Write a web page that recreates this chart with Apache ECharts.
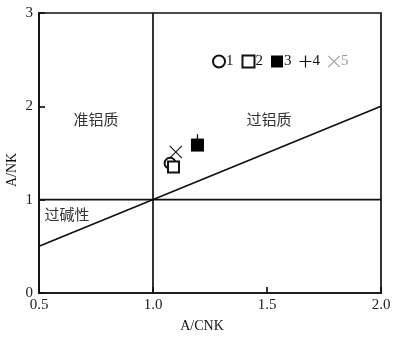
<!DOCTYPE html>
<html><head><meta charset="utf-8">
<script src="https://cdn.jsdelivr.net/npm/echarts@6/dist/echarts.min.js"></script>
<style>html,body{margin:0;padding:0;background:#fff}#c{width:393px;height:337px}</style>
</head><body><div id="c"></div>
<script>
// Reference lines
var diagLine = [[0.5, 0.5], [2.0, 2.0]];
var horizLine = [[0.5, 1.0], [2.0, 1.0]];
var vertLine = [[1.0, 0], [1.0, 3.0]];
// Sample points
var s1 = [[1.075, 1.39]];
var s2 = [[1.09, 1.35]];
var s3 = [[1.195, 1.585]];
var s4 = [[1.195, 1.63]];
var s5 = [[1.10, 1.51]];
var seriesNames = ['1', '2', '3', '4', '5'];
var xTicks = [0.5, 1.0, 1.5, 2.0];
var yTicks = [0, 1, 2, 3];

var PLUS = 'path://M4.5,0H5.5V4.5H10V5.5H5.5V10H4.5V5.5H0V4.5H4.5Z';
var CROSS = 'path://M0,0.6L0.6,0L5,4.4L9.4,0L10,0.6L5.6,5L10,9.4L9.4,10L5,5.6L0.6,10L0,9.4L4.4,5Z';
var serif = '"Liberation Serif","DejaVu Serif",serif';
var cjk = '"Noto Sans CJK SC",sans-serif';
var ink = '#111';

var chart = echarts.init(document.getElementById('c'));
function refLine(d) {
  return {type: 'line', data: d, symbol: 'none', silent: true,
    lineStyle: {color: ink, width: 1.7}, z: 1};
}
chart.setOption({
  backgroundColor: '#fff',
  animation: false,
  grid: {left: 39, right: 12, top: 13, bottom: 44, show: true, borderColor: ink, borderWidth: 1.7,
    containLabel: false, outerBoundsMode: 'none'},
  xAxis: {type: 'value', min: xTicks[0], max: xTicks[xTicks.length - 1], interval: 0.5,
    name: 'A/CNK', nameLocation: 'middle', nameGap: 26,
    nameTextStyle: {fontFamily: serif, fontSize: 14, color: ink, padding: [0, 16, 0, 0]},
    axisLine: {show: true, lineStyle: {color: ink, width: 1.7}},
    axisTick: {show: true, inside: true, length: 6, lineStyle: {color: ink, width: 1.7}},
    axisLabel: {fontFamily: serif, fontSize: 15, color: '#222', margin: 5, formatter: function (v) { return v.toFixed(1); }},
    splitLine: {show: false}},
  yAxis: {type: 'value', min: yTicks[0], max: yTicks[yTicks.length - 1], interval: 1,
    axisLine: {show: true, lineStyle: {color: ink, width: 1.7}},
    axisTick: {show: true, inside: true, length: 6, lineStyle: {color: ink, width: 1.7}},
    axisLabel: {fontFamily: serif, fontSize: 15, color: '#222', margin: 6},
    splitLine: {show: false}},
  legend: {left: 207, top: 49, itemWidth: 12, itemHeight: 12, itemGap: 8,
    textStyle: {fontFamily: serif, fontSize: 15, color: ink, padding: [0, 0, 0, -4]},
    data: [
      {name: seriesNames[0]}, {name: seriesNames[1]}, {name: seriesNames[2]},
      {name: seriesNames[3]},
      {name: seriesNames[4], itemStyle: {color: '#999'}, textStyle: {color: '#999'}}
    ]},
  graphic: [
    {type: 'text', x: 12, y: 170, rotation: Math.PI / 2,
      style: {text: 'A/NK', font: '14px ' + serif, fill: ink, align: 'center', verticalAlign: 'middle'}},
    {type: 'text', x: 96, y: 119, style: {text: '准铝质', font: '15px ' + cjk, fill: '#333', align: 'center', verticalAlign: 'middle'}},
    {type: 'text', x: 269, y: 119, style: {text: '过铝质', font: '15px ' + cjk, fill: '#333', align: 'center', verticalAlign: 'middle'}},
    {type: 'text', x: 67, y: 214, style: {text: '过碱性', font: '15px ' + cjk, fill: '#333', align: 'center', verticalAlign: 'middle'}}
  ],
  series: [
    refLine(diagLine), refLine(horizLine), refLine(vertLine),
    {name: seriesNames[0], type: 'scatter', data: s1, symbol: 'emptyCircle', symbolSize: 11,
      itemStyle: {color: ink, borderWidth: 1.6, opacity: 1}, z: 3},
    {name: seriesNames[1], type: 'scatter', data: s2, symbol: 'emptyRect', symbolSize: 11,
      itemStyle: {color: ink, borderWidth: 1.6, opacity: 1}, z: 3},
    {name: seriesNames[3], type: 'scatter', data: s4, symbol: PLUS, symbolSize: 13,
      itemStyle: {color: ink, opacity: 1}, z: 2},
    {name: seriesNames[2], type: 'scatter', data: s3, symbol: 'rect', symbolSize: 13,
      itemStyle: {color: '#000', borderWidth: 0, opacity: 1}, z: 10},
    {name: seriesNames[4], type: 'scatter', data: s5, symbol: CROSS, symbolSize: 13,
      itemStyle: {color: ink, opacity: 1}, z: 3}
  ]
});
</script></body></html>
